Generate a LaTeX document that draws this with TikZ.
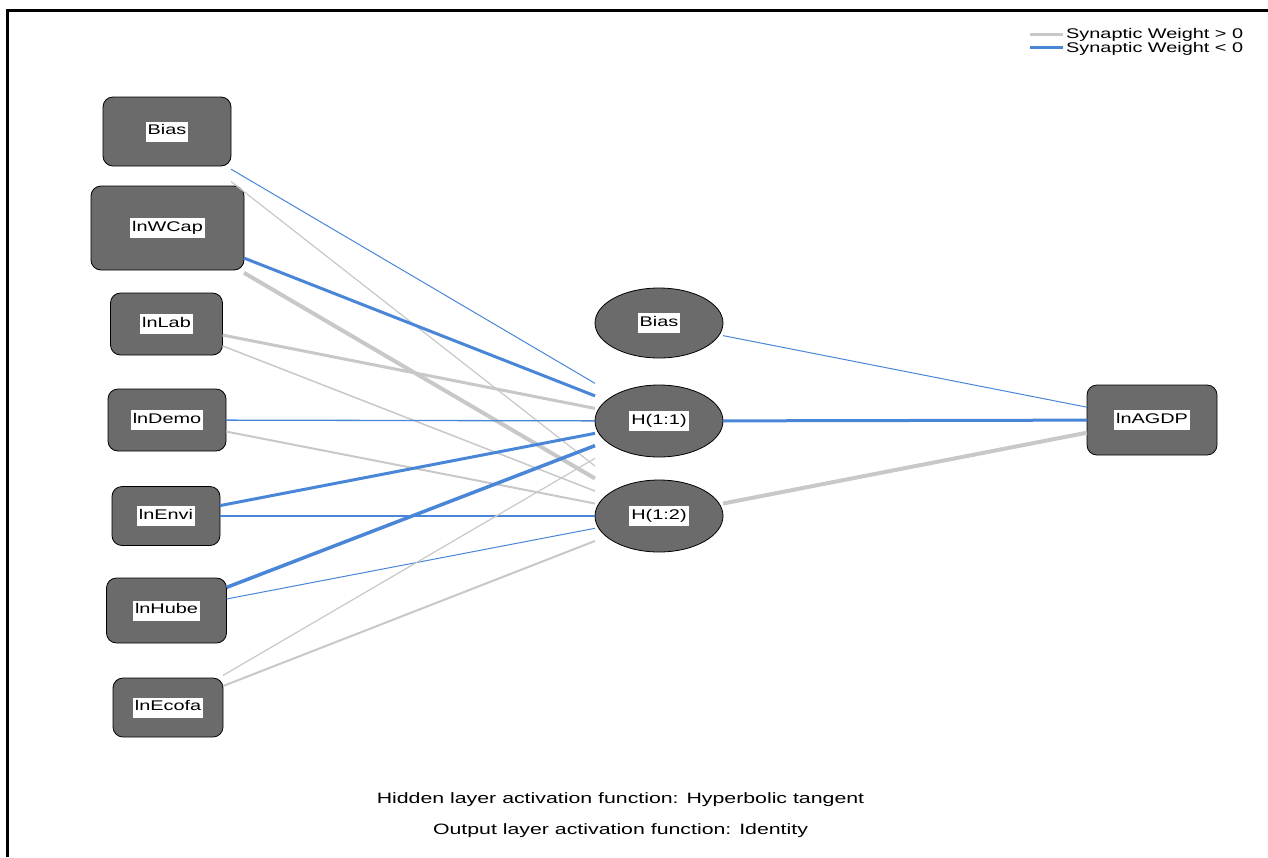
\documentclass[tikz,border=0pt]{standalone}
\usepackage{fontspec}
\setmainfont{Liberation Sans}
\usepackage{graphicx}
\usetikzlibrary{calc,shapes.geometric}
\definecolor{posw}{RGB}{200,200,200}
\definecolor{negw}{RGB}{74,134,216}
\definecolor{nodefill}{RGB}{107,107,107}
\newcommand\wtxt[1]{\scalebox{1.42}[1]{#1}}
\newcommand\lbl[1]{{\setlength{\fboxsep}{2pt}\colorbox{white}{\strut\wtxt{#1}}}}
\newcommand\netlink[3]{\draw[#3] let \p1=(#1.center), \p2=(#2.center), \p3=(#1.east), \p4=(#2.west) in ($(\p1)!{scalar((\x3-\x1)/(\x2-\x1))}!(\p2)$) -- ($(\p1)!{scalar((\x4-\x1)/(\x2-\x1))}!(\p2)$);}
\begin{document}
\begin{tikzpicture}[x=1pt,y=-1pt,
  inbox/.style={draw=black, line width=0.8pt, fill=nodefill, rounded corners=10pt, inner sep=0pt, outer sep=0pt, font=\fontsize{14}{16}\selectfont},
  hid/.style={ellipse, draw=black, line width=0.8pt, fill=nodefill, inner sep=0pt, outer sep=0pt, minimum width=128pt, minimum height=72pt, font=\fontsize{14}{16}\selectfont},
  wpos/.style={draw=posw},
  wneg/.style={draw=negw},
  legtxt/.style={anchor=west, inner sep=0pt, font=\fontsize{14}{15}\selectfont},
  captxt/.style={inner sep=0pt, font=\fontsize{15}{17}\selectfont}]
\useasboundingbox (0,0) rectangle (1268,857);
\coordinate (fa) at (7.3,857);
\coordinate (fb) at (7.3,10.7);
\coordinate (fc) at (1268,10.7);
\draw[line width=2.7pt] (fa) -- (fb) -- (fc);
% input layer
\node[inbox, minimum width=128pt, minimum height=69pt] (ib) at (167,131.5) {\lbl{Bias}};
\node[inbox, minimum width=153pt, minimum height=84pt] (iw) at (167.5,228) {\lbl{lnWCap}};
\node[inbox, minimum width=112pt, minimum height=62pt] (il) at (166.5,324) {\lbl{lnLab}};
\node[inbox, minimum width=118pt, minimum height=62pt] (id) at (167,420) {\lbl{lnDemo}};
\node[inbox, minimum width=108pt, minimum height=59pt] (ie) at (166,516) {\lbl{lnEnvi}};
\node[inbox, minimum width=120pt, minimum height=65pt] (ih) at (166.5,610.5) {\lbl{lnHube}};
\node[inbox, minimum width=110pt, minimum height=59pt] (ic) at (168,707.5) {\lbl{lnEcofa}};
% hidden layer
\node[hid, minimum height=70pt] (hb) at (659,323) {\lbl{Bias}};
\node[hid] (h1) at (659,421) {\lbl{H(1:1)}};
\node[hid] (h2) at (659,516) {\lbl{H(1:2)}};
% output layer
\node[inbox, minimum width=130pt, minimum height=70pt] (out) at (1152,420) {\lbl{lnAGDP}};
% connections
\netlink{ib}{h1}{wneg, line width=1pt}
\netlink{ib}{h2}{wpos, line width=1.2pt}
\netlink{iw}{h1}{wneg, line width=3pt}
\netlink{iw}{h2}{wpos, line width=4pt}
\netlink{il}{h1}{wpos, line width=3pt}
\netlink{il}{h2}{wpos, line width=1.5pt}
\netlink{id}{h1}{wneg, line width=1.3pt}
\netlink{id}{h2}{wpos, line width=2pt}
\netlink{ie}{h1}{wneg, line width=3pt}
\netlink{ie}{h2}{wneg, line width=2.5pt}
\netlink{ih}{h1}{wneg, line width=3.5pt}
\netlink{ih}{h2}{wneg, line width=1pt}
\netlink{ic}{h1}{wpos, line width=1.2pt}
\netlink{ic}{h2}{wpos, line width=2pt}
\netlink{hb}{out}{wneg, line width=1pt}
\netlink{h1}{out}{wneg, line width=3pt}
\netlink{h2}{out}{wpos, line width=4pt}
% legend
\coordinate (lpa) at (1030,34);
\coordinate (lpb) at (1063,34);
\coordinate (lna) at (1030,47);
\coordinate (lnb) at (1063,47);
\draw[wpos, line width=3pt] (lpa) -- (lpb);
\draw[wneg, line width=3pt] (lna) -- (lnb);
\node[legtxt] (lgp) at (1066,35) {\wtxt{Synaptic Weight > 0}};
\node[legtxt] (lgn) at (1066,48.5) {\wtxt{Synaptic Weight < 0}};
% captions
\node[captxt] (cap1) at (620.5,800) {\wtxt{Hidden layer activation function: Hyperbolic tangent}};
\node[captxt] (cap2) at (620.5,831) {\wtxt{Output layer activation function: Identity}};
\end{tikzpicture}
\end{document}
